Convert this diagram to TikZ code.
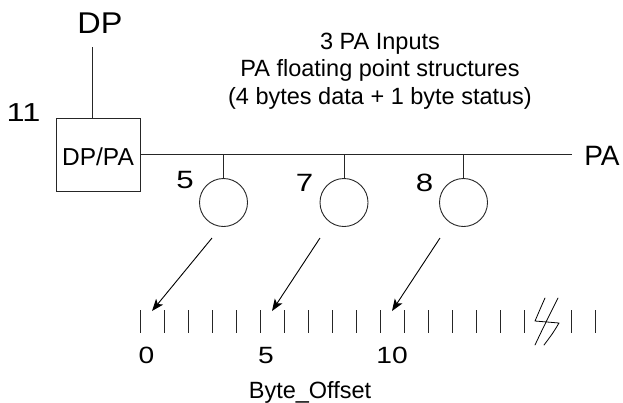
\documentclass[tikz,border=0pt]{standalone}
\usepackage{fontspec}
\usepackage{graphicx}
\setmainfont{Liberation Sans}
\usetikzlibrary{arrows.meta}
% wide glyphs for the numeric labels
\newcommand{\widetxt}[2]{\scalebox{#1}[1]{#2}}
\begin{document}
\begin{tikzpicture}[x=1pt,y=-1pt,
  line width=0.9pt,
  lbl/.style={inner sep=0pt,anchor=base,font=\fontsize{23.5}{27}\selectfont},
  big/.style={lbl,font=\fontsize{#1}{#1}\selectfont},
  wire/.style={draw=black!85},
  port/.style={circle,draw=black!85,minimum size=48pt,inner sep=0pt},
  unitbox/.style={rectangle,draw=black!85,minimum width=84pt,minimum height=73pt,inner sep=0pt},
  ptr/.style={draw=black,-{Stealth[length=12pt,width=9pt,inset=3pt]}},
  tick/.style={draw=black!85}]
\useasboundingbox (0,0) rectangle (623,402);

% interface unit and its upstream link
\node[big=30] (dp) at (100,33) {\widetxt{1.08}{DP}};
\node[big=26] (eleven) at (23.5,121) {\widetxt{1.25}{11}};
\node[unitbox] (box) at (98,154.5) {};
\node[big=24.5] (boxtext) at (98,165) {DP/PA};
\coordinate (dptop) at (92,47);
\draw[wire] (dptop) -- (dptop |- box.north);

% PA bus
\coordinate (busend) at (572,154.5);
\draw[wire] (box.east |- busend) -- (busend);
\node[big=28] (pa) at (602,165) {PA};

% header text
\node[align=center,inner sep=0pt,font=\fontsize{23.5}{27.5}\selectfont] (hdr) at (380,71)
  {3 PA Inputs\\PA floating point structures\\(4 bytes data + 1 byte status)};

% the three inputs
\node[port] (c1) at (223.5,202.5) {};
\node[port] (c2) at (344,202.5) {};
\node[port] (c3) at (463.5,202.5) {};
\draw[wire] (c1.north |- busend) -- (c1.north);
\draw[wire] (c2.north |- busend) -- (c2.north);
\draw[wire] (c3.north |- busend) -- (c3.north);
\node[big=25] (n5) at (185,188.5) {\widetxt{1.25}{5}};
\node[big=25] (n7) at (304.5,191.5) {\widetxt{1.25}{7}};
\node[big=25] (n8) at (424.5,191.5) {\widetxt{1.25}{8}};

% pointers into the byte array
\coordinate (a1s) at (212,238); \coordinate (a1e) at (152,311);
\coordinate (a2s) at (320,238); \coordinate (a2e) at (272,311);
\coordinate (a3s) at (440,238); \coordinate (a3e) at (392,311);
\draw[ptr] (a1s) -- (a1e);
\draw[ptr] (a2s) -- (a2e);
\draw[ptr] (a3s) -- (a3e);

% byte offset scale
\foreach \k in {0,...,16} {
  \draw[tick] ({140+24*\k},310) -- ({140+24*\k},333);
}
\draw[tick] (571,310) -- (571,333);
\draw[tick] (595,310) -- (595,333);

% break mark in the scale
\draw[line width=0.8pt,line cap=round,line join=round]
  (545,298) .. controls (541,307) .. (535,321) -- (559,323) .. controls (553,333) .. (544,345);
\draw[line width=0.8pt,line cap=round]
  (558,298) .. controls (548,318) and (542,330) .. (535,345);

\node[big=23.5] (o0) at (146.5,363) {\widetxt{1.2}{0}};
\node[big=23.5] (o5) at (266,363) {\widetxt{1.2}{5}};
\node[big=23.5] (o10) at (392,363) {\widetxt{1.2}{10}};
\node[big=23.5] (axis) at (310,398) {Byte\_Offset};
\end{tikzpicture}
\end{document}
